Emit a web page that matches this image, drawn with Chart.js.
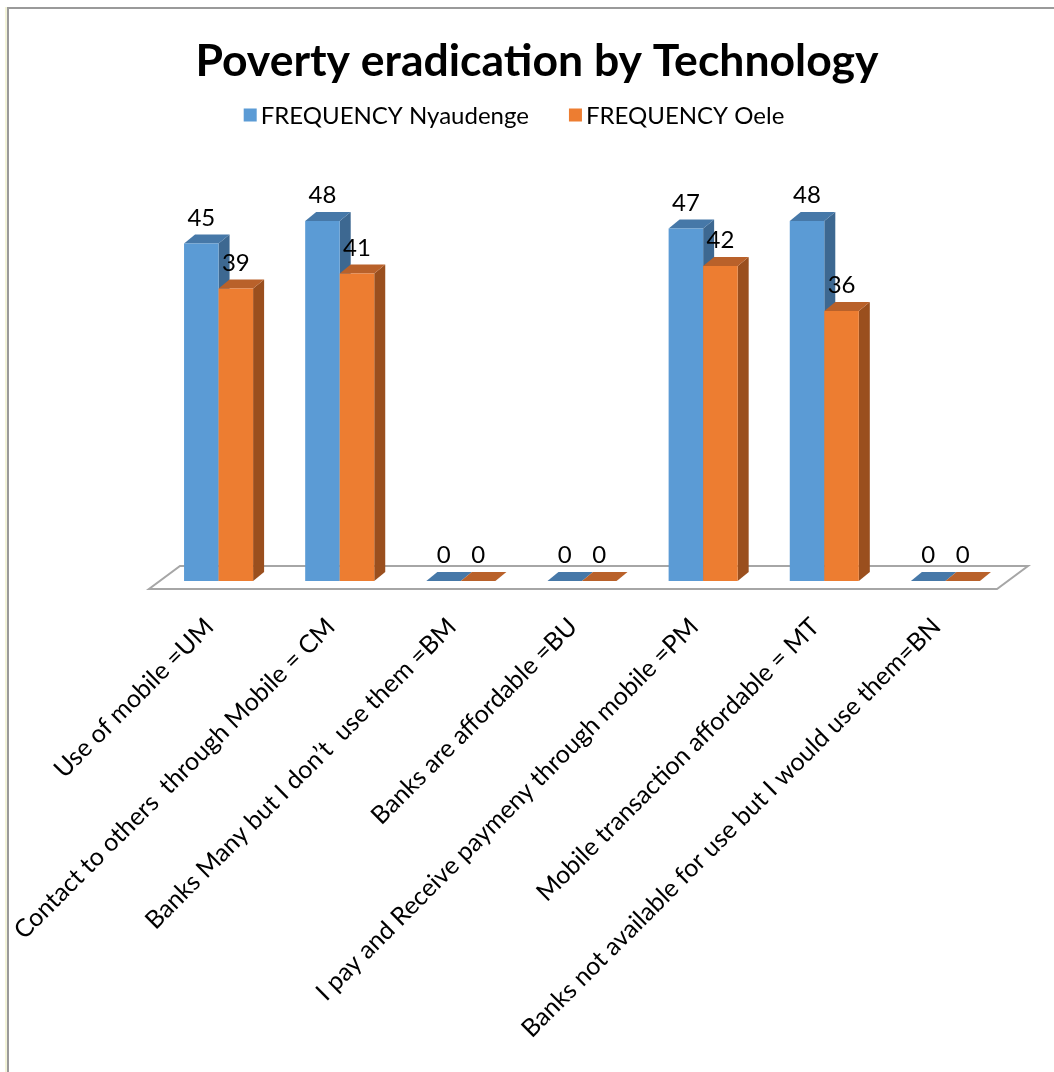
<!DOCTYPE html>
<html>
<head>
<meta charset="utf-8">
<title>Poverty eradication by Technology</title>
<script src="https://cdn.jsdelivr.net/npm/chart.js@4.4.0/dist/chart.umd.min.js"></script>
<style>
  html, body { margin: 0; padding: 0; background: #fff; }
  #wrap { width: 1054px; height: 1072px; }
</style>
</head>
<body>
<div id="wrap"><canvas id="povertyChart" width="1054" height="1072"></canvas></div>
<script>
// data
const categories = [
  'Use of mobile =UM',
  'Contact to others  through Mobile = CM',
  'Banks Many but I don\u2019t  use them =BM',
  'Banks are affordable =BU',
  'I pay and Receive paymeny through mobile =PM',
  'Mobile transaction affordable = MT',
  'Banks not available for use but I would use them=BN'
];
const seriesNames = ['FREQUENCY Nyaudenge', 'FREQUENCY Oele'];
const nyaudenge = [45, 48, 0, 0, 47, 48, 0];
const oele = [39, 41, 0, 0, 42, 36, 0];

// look
const FONT = 'Lato, "Open Sans", sans-serif';
const frontColors = ['#5b9bd5', '#ed7d31'];
const topColors = ['#4678a8', '#b9612a'];
const sideColors = ['#3d6891', '#9a4f1e'];
const DX = 11, DY = -9;   // depth of the fake 3d boxes

function poly(ctx, pts, color) {
  ctx.beginPath();
  ctx.moveTo(pts[0][0], pts[0][1]);
  for (let i = 1; i < pts.length; i++) ctx.lineTo(pts[i][0], pts[i][1]);
  ctx.closePath();
  ctx.fillStyle = color;
  ctx.fill();
}

const bars3d = {
  id: 'bars3d',
  beforeDraw(chart) {
    const ctx = chart.ctx;
    ctx.save();
    ctx.fillStyle = '#fff';
    ctx.fillRect(0, 0, chart.width, chart.height);
    // outer frame (only left and top edges are in view)
    ctx.fillStyle = '#f3f3d8';
    ctx.fillRect(5, 7, 2, chart.height);
    ctx.fillStyle = '#9a9a9a';
    ctx.fillRect(7, 7, 2, chart.height);
    ctx.fillRect(7, 7, chart.width, 2);
    ctx.restore();
  },
  beforeDatasetsDraw(chart) {
    const ctx = chart.ctx;
    const area = chart.chartArea;
    const zero = chart.scales.y.getPixelForValue(0);
    ctx.save();
    // floor
    ctx.beginPath();
    ctx.moveTo(area.left - 9, zero + 8);
    ctx.lineTo(area.right - 9, zero + 8);
    ctx.lineTo(area.right + 22, zero - 15);
    ctx.lineTo(area.left + 22, zero - 15);
    ctx.closePath();
    ctx.fillStyle = '#fff';
    ctx.fill();
    ctx.strokeStyle = '#a6a6a6';
    ctx.lineWidth = 2;
    ctx.stroke();

    for (let i = 0; i < chart.data.labels.length; i++) {
      chart.data.datasets.forEach((ds, d) => {
        const el = chart.getDatasetMeta(d).data[i];
        const p = el.getProps(['x', 'y', 'base', 'width'], true);
        const l = p.x - p.width / 2, r = p.x + p.width / 2;
        const t = p.y, b = p.base;
        if (b - t > 0.5) {
          poly(ctx, [[r, t], [r + DX, t + DY], [r + DX, b + DY], [r, b]], sideColors[d]);
        }
        poly(ctx, [[l, t], [r, t], [r + DX, t + DY], [l + DX, t + DY]], topColors[d]);
        if (b - t > 0.5) {
          ctx.fillStyle = frontColors[d];
          ctx.fillRect(l, t, p.width, b - t);
        }
      });
    }
    ctx.restore();
    return false;
  },
  afterDraw(chart) {
    const ctx = chart.ctx;
    ctx.save();
    // value labels
    ctx.font = '24px ' + FONT;
    ctx.fillStyle = '#000';
    ctx.textAlign = 'center';
    ctx.textBaseline = 'alphabetic';
    chart.data.datasets.forEach((ds, d) => {
      chart.getDatasetMeta(d).data.forEach((el, i) => {
        ctx.fillText(String(ds.data[i]), el.x, el.y - 18);
      });
    });
    // legend
    ctx.font = '24px ' + FONT;
    ctx.textAlign = 'left';
    ctx.textBaseline = 'middle';
    const box = 13, gapText = 4, gapItem = 40, ly = 115;
    const widths = chart.data.datasets.map(ds => box + gapText + ctx.measureText(ds.label).width);
    const total = widths.reduce((a, w) => a + w, 0) + gapItem * (widths.length - 1);
    let x = 514 - total / 2;
    chart.data.datasets.forEach((ds, d) => {
      ctx.fillStyle = frontColors[d];
      ctx.fillRect(x, ly - 6.5, box, box);
      ctx.fillStyle = '#000';
      ctx.fillText(ds.label, x + box + gapText, ly + 1);
      x += widths[d] + gapItem;
    });
    ctx.restore();
  }
};

new Chart(document.getElementById('povertyChart'), {
  type: 'bar',
  data: {
    labels: categories,
    datasets: [
      { label: seriesNames[0], data: nyaudenge, backgroundColor: frontColors[0] },
      { label: seriesNames[1], data: oele, backgroundColor: frontColors[1] }
    ]
  },
  options: {
    responsive: false,
    animation: false,
    layout: { padding: { top: 0, left: 68, right: 48, bottom: 0 } },
    datasets: { bar: { barPercentage: 1, categoryPercentage: 0.57 } },
    plugins: {
      legend: { display: false },
      tooltip: { enabled: false },
      title: {
        display: true,
        text: 'Poverty eradication by Technology',
        color: '#000',
        font: { family: FONT, size: 44.5, weight: 'bold' },
        padding: { top: 35, bottom: 117.6 }
      }
    },
    scales: {
      x: {
        grid: { display: false, drawTicks: false },
        border: { display: false },
        ticks: {
          color: '#000',
          font: { family: FONT, size: 25 },
          autoSkip: false,
          minRotation: 45,
          maxRotation: 45,
          padding: 31,
          labelOffset: -9
        },
        afterFit(scale) { scale.height = 491; }
      },
      y: {
        display: true,
        min: 0,
        max: 50,
        grid: { display: false, drawTicks: false },
        border: { display: false },
        ticks: { display: false },
        afterFit(scale) { scale.width = 90; }
      }
    }
  },
  plugins: [bars3d]
});
</script>
</body>
</html>
